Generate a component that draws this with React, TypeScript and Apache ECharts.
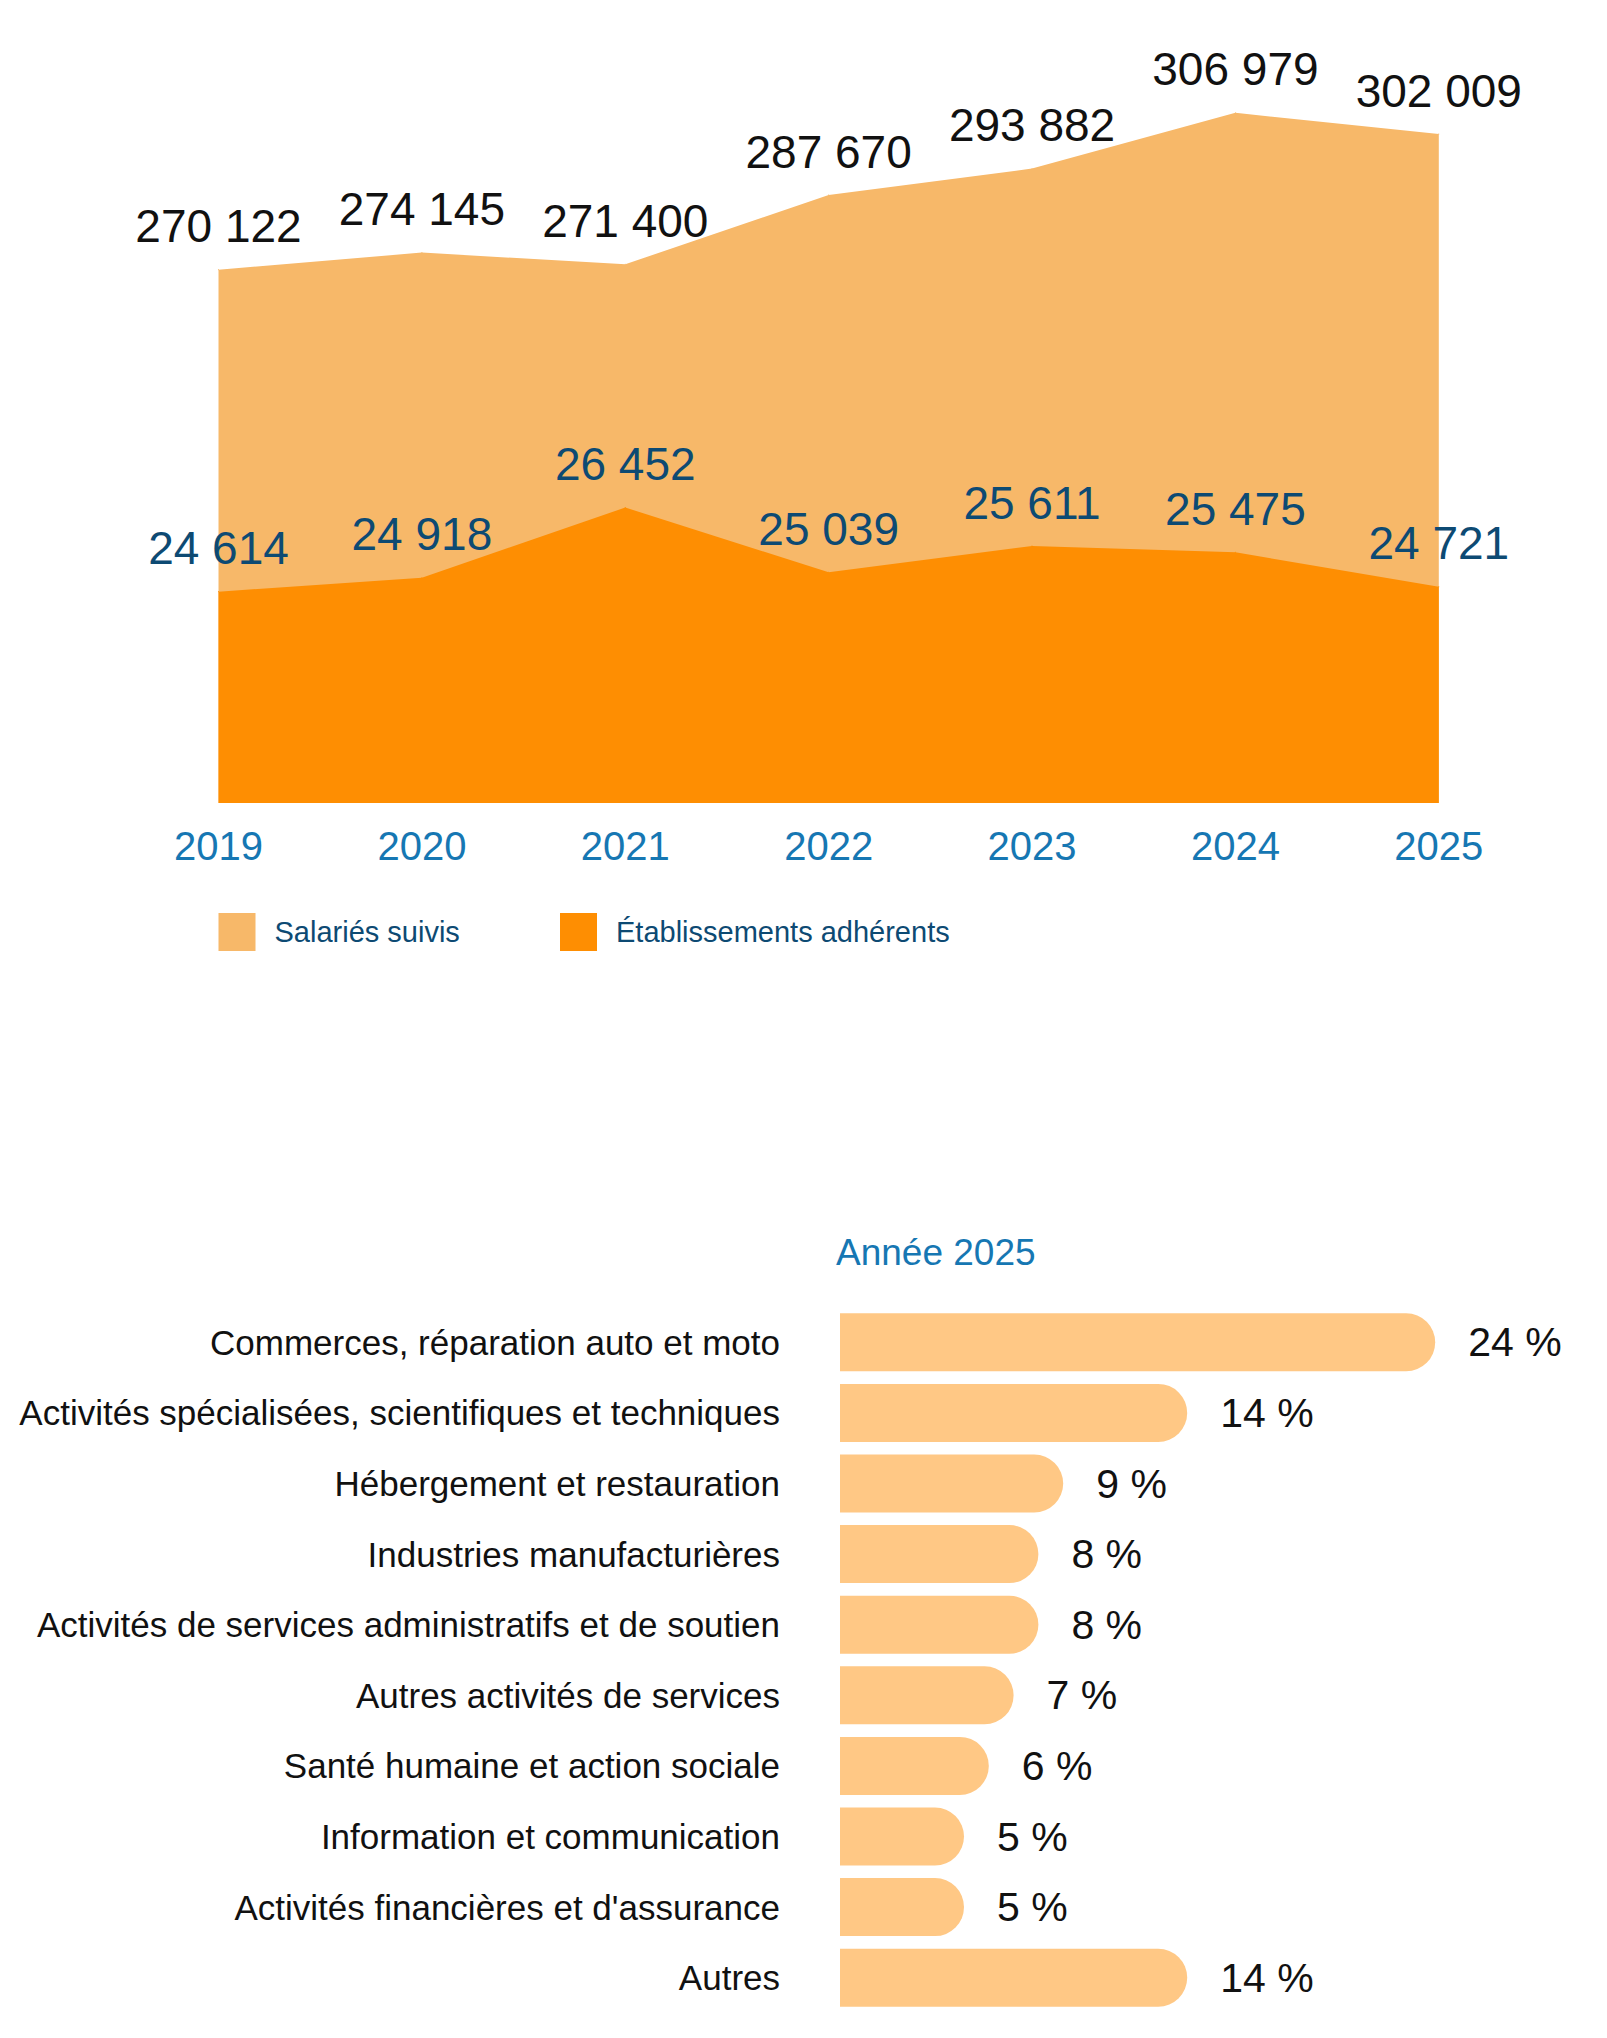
import React, { useEffect, useRef } from "react";
import * as echarts from "echarts";

const years = ["2019", "2020", "2021", "2022", "2023", "2024", "2025"];
const salariesSuivis = [270122, 274145, 271400, 287670, 293882, 306979, 302009];
const etablissementsAdherents = [24614, 24918, 26452, 25039, 25611, 25475, 24721];

const sectors = [
  "Commerces, réparation auto et moto",
  "Activités spécialisées, scientifiques et techniques",
  "Hébergement et restauration",
  "Industries manufacturières",
  "Activités de services administratifs et de soutien",
  "Autres activités de services",
  "Santé humaine et action sociale",
  "Information et communication",
  "Activités financières et d'assurance",
  "Autres",
];
const sectorShares = [24, 14, 9, 8, 8, 7, 6, 5, 5, 14];

const FONT = "'Liberation Sans', Arial, sans-serif";
const C_LIGHT = "#F7B869";
const C_ORANGE = "#FE8E02";
const C_BAR = "#FFC885";
const C_BLUE = "#1677B3";
const C_DARK = "#0D4A73";

const fmt = (v: number) => String(v).replace(/\B(?=(\d{3})+(?!\d))/g, " ");

export default function App() {
  const ref = useRef<HTMLDivElement>(null);
  useEffect(() => {
    if (!ref.current) return;
    const chart = echarts.init(ref.current, null, { renderer: "svg" });
    chart.setOption({
      animation: false,
      backgroundColor: "#ffffff",
      textStyle: { fontFamily: FONT },
      title: {
        text: "Année 2025",
        left: 836,
        top: 1234,
        padding: 0,
        textStyle: { fontFamily: FONT, fontSize: 37, lineHeight: 37, fontWeight: "normal", color: C_BLUE },
      },
      legend: [
        {
          data: [{ name: "Salariés suivis", icon: "rect" }],
          left: 218.5,
          top: 913,
          padding: 0,
          itemWidth: 37,
          itemHeight: 38,
          selectedMode: false,
          textStyle: { fontFamily: FONT, fontSize: 29, color: C_DARK, padding: [0, 0, 0, 14] },
        },
        {
          data: [{ name: "Établissements adhérents", icon: "rect" }],
          left: 560,
          top: 913,
          padding: 0,
          itemWidth: 37,
          itemHeight: 38,
          selectedMode: false,
          textStyle: { fontFamily: FONT, fontSize: 29, color: C_DARK, padding: [0, 0, 0, 14] },
        },
      ],
      grid: [
        { left: 218.5, top: 100, width: 1220.3, height: 703, outerBoundsMode: "none", containLabel: false },
        { left: 840, top: 1307, width: 744, height: 706, outerBoundsMode: "none", containLabel: false },
      ],
      xAxis: [
        {
          type: "category",
          gridIndex: 0,
          data: years,
          boundaryGap: false,
          axisLine: { show: false },
          axisTick: { show: false },
          axisLabel: { color: C_BLUE, fontSize: 40, lineHeight: 40, margin: 23, fontFamily: FONT },
        },
        { type: "value", gridIndex: 1, min: 0, max: 30, show: false },
      ],
      yAxis: [
        { type: "value", gridIndex: 0, min: 144800, max: 310000, show: false },
        { type: "value", gridIndex: 0, min: 20000, max: 35350, show: false },
        {
          type: "category",
          gridIndex: 1,
          data: sectors,
          inverse: true,
          axisLine: { show: false },
          axisTick: { show: false },
          axisLabel: { color: "#111111", fontSize: 35, margin: 60, fontFamily: FONT },
        },
      ],
      series: [
        {
          name: "Salariés suivis",
          type: "line",
          xAxisIndex: 0,
          yAxisIndex: 0,
          data: salariesSuivis,
          symbol: "circle",
          symbolSize: 1,
          showSymbol: true,
          lineStyle: { width: 0 },
          itemStyle: { color: C_LIGHT },
          areaStyle: { color: C_LIGHT, opacity: 1, origin: "start" },
          label: {
            show: true,
            position: "top",
            distance: 20,
            color: "#111111",
            fontSize: 46,
            lineHeight: 46,
            fontFamily: FONT,
            formatter: (p: any) => fmt(p.value),
          },
          z: 2,
        },
        {
          name: "Établissements adhérents",
          type: "line",
          xAxisIndex: 0,
          yAxisIndex: 1,
          data: etablissementsAdherents,
          symbol: "circle",
          symbolSize: 1,
          showSymbol: true,
          lineStyle: { width: 0 },
          itemStyle: { color: C_ORANGE },
          areaStyle: { color: C_ORANGE, opacity: 1, origin: "start" },
          label: {
            show: true,
            position: "top",
            distance: 20,
            color: C_DARK,
            fontSize: 46,
            lineHeight: 46,
            fontFamily: FONT,
            formatter: (p: any) => fmt(p.value),
          },
          z: 3,
        },
        {
          name: "Part",
          type: "bar",
          xAxisIndex: 1,
          yAxisIndex: 2,
          data: sectorShares,
          barWidth: 58,
          itemStyle: { color: C_BAR, borderRadius: [0, 29, 29, 0] },
          label: {
            show: true,
            position: "right",
            distance: 33,
            color: "#111111",
            fontSize: 41,
            fontFamily: FONT,
            formatter: (p: any) => `${p.value} %`,
          },
        },
      ],
    });
    return () => chart.dispose();
  }, []);
  return (
    <div
      ref={ref}
      style={{ position: "absolute", left: 0, top: 0, width: 1607, height: 2038 }}
    />
  );
}
